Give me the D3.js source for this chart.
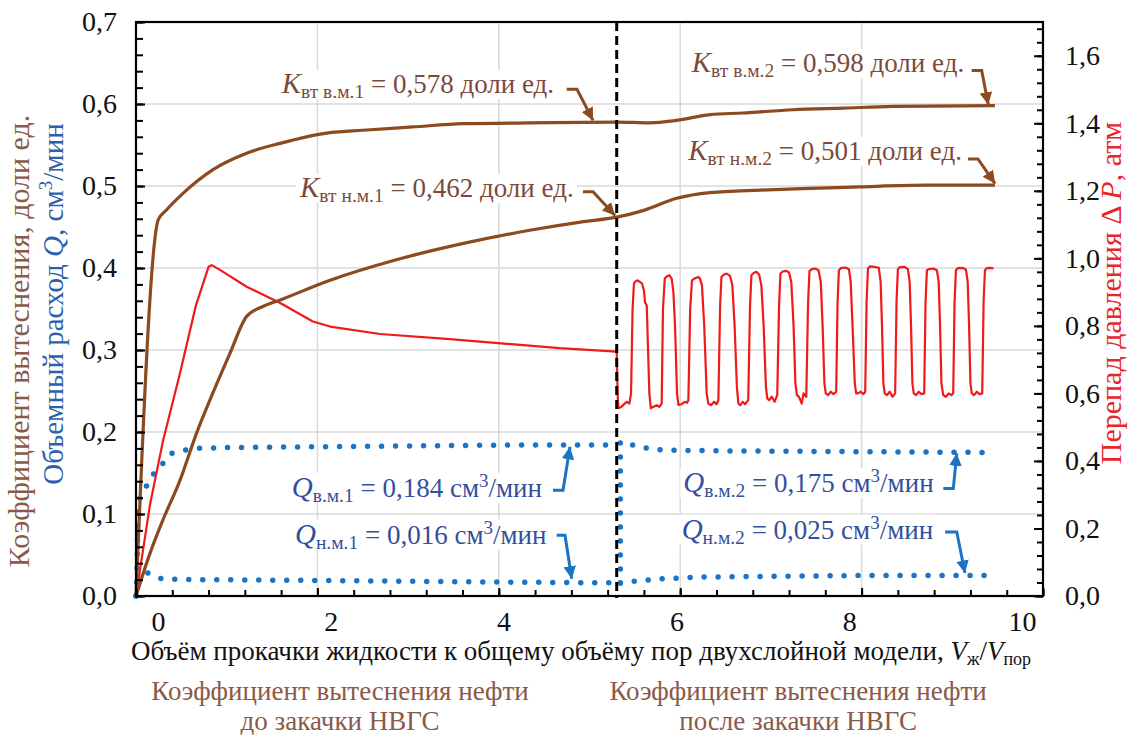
<!DOCTYPE html>
<html><head><meta charset="utf-8">
<script src="https://cdn.jsdelivr.net/npm/d3@7/dist/d3.min.js"></script>
<style>body{margin:0;background:#fff}svg{display:block}</style>
</head><body><svg id="c" width="1137" height="735"></svg>
<script>
// ---------- data ----------
const xTickValues=[0,2,4,6,8,10];
const yLeftTickValues=[0,0.1,0.2,0.3,0.4,0.5,0.6,0.7];
const yRightTickValues=[0,0.2,0.4,0.6,0.8,1.0,1.2,1.4,1.6];
const injectionX=5.30;
const kHigh=[[0,0],[0.246,0.459],[0.338,0.471],[0.518,0.491],[0.849,0.520],[1.22,0.540],[1.59,0.552],[2.14,0.565],[2.50,0.568],[3.05,0.572],[3.61,0.576],[4.34,0.577],[5.30,0.578],[5.67,0.577],[5.96,0.580],[6.33,0.587],[6.69,0.589],[7.24,0.593],[7.80,0.595],[8.35,0.597],[9.47,0.598]];
const kLow=[[0,0],[0.154,0.052],[0.298,0.093],[0.485,0.141],[0.669,0.199],[0.849,0.248],[1.036,0.296],[1.22,0.341],[1.40,0.353],[1.59,0.361],[2.14,0.385],[2.87,0.410],[3.61,0.430],[4.34,0.446],[4.90,0.456],[5.30,0.462],[5.59,0.470],[5.96,0.485],[6.33,0.492],[6.88,0.495],[7.43,0.497],[7.98,0.499],[8.72,0.501],[9.47,0.501]];
const dP=[[0,0],[0.154,0.27],[0.298,0.46],[0.485,0.66],[0.66,0.86],[0.80,0.975],[0.835,0.980],[0.926,0.966],[1.22,0.916],[1.59,0.868],[1.95,0.813],[2.14,0.798],[2.69,0.776],[3.46,0.761],[4.67,0.734],[5.30,0.724],
[5.31,0.60],[5.318,0.556],[5.35,0.56],[5.373,0.566],[5.41,0.575],[5.44,0.57],[5.458,0.60],
[5.475,0.85],[5.49,0.925],[5.502,0.931],[5.53,0.935],[5.557,0.93],[5.58,0.925],[5.60,0.905],[5.612,0.87],[5.631,0.86],[5.66,0.60],[5.676,0.556],
[5.70,0.56],[5.74,0.565],[5.77,0.56],[5.796,0.57],
[5.81,0.85],[5.83,0.94],[5.851,0.946],[5.88,0.95],[5.906,0.94],[5.925,0.90],[5.943,0.80],[5.965,0.60],[5.98,0.566],
[6.016,0.568],[6.05,0.575],[6.075,0.572],[6.09,0.58],
[6.11,0.85],[6.13,0.935],[6.163,0.941],[6.20,0.945],[6.218,0.94],[6.24,0.92],[6.265,0.80],[6.292,0.60],[6.31,0.57],
[6.34,0.565],[6.373,0.575],[6.40,0.568],[6.421,0.58],
[6.44,0.86],[6.455,0.945],[6.476,0.951],[6.51,0.955],[6.55,0.948],[6.575,0.92],[6.60,0.80],[6.625,0.62],[6.641,0.57],
[6.66,0.565],[6.69,0.575],[6.715,0.568],[6.75,0.58],
[6.77,0.86],[6.785,0.95],[6.807,0.956],[6.84,0.96],[6.87,0.952],[6.895,0.92],[6.92,0.80],[6.945,0.62],[6.96,0.585],
[6.98,0.58],[7.01,0.59],[7.04,0.575],[7.07,0.595],
[7.09,0.86],[7.105,0.955],[7.13,0.961],[7.17,0.963],[7.20,0.958],[7.225,0.93],[7.25,0.80],[7.27,0.63],[7.287,0.595],
[7.31,0.59],[7.34,0.57],[7.36,0.60],[7.39,0.59],
[7.41,0.87],[7.425,0.962],[7.45,0.968],[7.49,0.97],[7.525,0.965],[7.55,0.93],[7.57,0.80],[7.59,0.63],[7.605,0.60],
[7.63,0.595],[7.66,0.605],[7.69,0.598],[7.72,0.605],
[7.735,0.87],[7.75,0.965],[7.77,0.971],[7.82,0.973],[7.86,0.968],[7.88,0.93],[7.90,0.80],[7.925,0.63],[7.94,0.60],
[7.96,0.60],[7.99,0.605],[8.02,0.598],[8.04,0.605],
[8.055,0.87],[8.07,0.97],[8.09,0.976],[8.14,0.975],[8.19,0.972],[8.21,0.93],[8.225,0.80],[8.24,0.63],[8.255,0.60],
[8.28,0.595],[8.31,0.605],[8.34,0.59],[8.37,0.60],
[8.385,0.87],[8.40,0.968],[8.42,0.974],[8.47,0.975],[8.51,0.968],[8.53,0.93],[8.545,0.80],[8.56,0.63],[8.575,0.60],
[8.60,0.595],[8.63,0.605],[8.66,0.598],[8.69,0.60],
[8.705,0.87],[8.72,0.965],[8.74,0.968],[8.79,0.97],[8.83,0.965],[8.85,0.93],[8.865,0.80],[8.88,0.63],[8.90,0.595],
[8.93,0.59],[8.96,0.60],[8.99,0.595],[9.01,0.60],
[9.025,0.87],[9.04,0.965],[9.06,0.971],[9.11,0.972],[9.15,0.967],[9.17,0.93],[9.185,0.80],[9.20,0.63],[9.215,0.60],
[9.24,0.595],[9.27,0.605],[9.30,0.598],[9.33,0.60],
[9.345,0.87],[9.36,0.965],[9.38,0.971],[9.42,0.972],[9.455,0.97]];
const qHigh1=[[0,0],[0.008,0.02],[0.015,0.056],[0.02,0.105],[0.045,0.121],[0.12,0.135],[0.21,0.152],[0.30,0.162],[0.39,0.174],[0.54,0.178],[0.68,0.180],[1.0,0.181],[2.0,0.182],[3.0,0.183],[4.0,0.184],[5.25,0.184]];
const qLow1=[[0,0],[0.005,0.015],[0.13,0.028],[0.28,0.021],[0.6,0.020],[2,0.019],[4,0.017],[5.25,0.016]];
const qHigh2=[[5.34,0.016],[5.34,0.188],[5.40,0.188],[5.52,0.182],[5.8,0.178],[6.5,0.177],[8,0.176],[9.45,0.175]];
const qLow2=[[5.34,0.016],[5.5,0.018],[5.8,0.021],[6.2,0.023],[7,0.024],[8,0.025],[9.45,0.025]];
const kNotes=[
 {sub:"вт в.м.1",txt:" = 0,578 доли ед.",at:[1.606,0.613],arrow:[[4.749,0.618],[4.862,0.618],[5.039,0.580]]},
 {sub:"вт н.м.1",txt:" = 0,462 доли ед.",at:[1.808,0.487],arrow:[[4.928,0.493],[5.039,0.493],[5.281,0.464]]},
 {sub:"вт в.м.2",txt:" = 0,598 доли ед.",at:[6.127,0.639],arrow:[[9.214,0.641],[9.324,0.641],[9.397,0.599]]},
 {sub:"вт н.м.2",txt:" = 0,501 доли ед.",at:[6.089,0.532],arrow:[[9.173,0.533],[9.283,0.533],[9.471,0.503]]}
];
const qNotes=[
 {sub:"в.м.1",txt:" = 0,184 см",at:[1.717,0.121],arrow:[[4.598,0.129],[4.708,0.129],[4.785,0.182]]},
 {sub:"н.м.1",txt:" = 0,016 см",at:[1.753,0.064],arrow:[[4.638,0.074],[4.730,0.074],[4.804,0.021]]},
 {sub:"в.м.2",txt:" = 0,175 см",at:[6.034,0.127],arrow:[[8.901,0.131],[9.011,0.131],[9.049,0.174]]},
 {sub:"н.м.2",txt:" = 0,025 см",at:[6.016,0.070],arrow:[[8.920,0.078],[9.049,0.078],[9.140,0.028]]}
];
const xTitle="Объём прокачки жидкости к общему объёму пор двухслойной модели, ";
const bottomNotes=[["Коэффициент вытеснения нефти","до закачки НВГС",2.25],["Коэффициент вытеснения нефти","после закачки НВГС",7.3]];

// ---------- drawing ----------
const FONT="'Liberation Serif', serif";
const C={brown:"#8b4a1f",brownText:"#7c4a3a",blue:"#1a73c4",blueText:"#344f9c",red:"#f01a1a",grid:"#d9d9d9"};
const L=136,R=1043,T=22,B=596;
const x=d3.scaleLinear([0,10],[L,R]);
const xLab=d3.scaleLinear([0,10],[158,1022]);
const yL=d3.scaleLinear([0,0.7],[B,T]);
const yR=d3.scaleLinear([0,1.7],[B,T]);
const svg=d3.select("#c").style("font-family",FONT);
const defs=svg.append("defs");
[["ab",C.brown],["aq",C.blue]].forEach(([id,col])=>{
 defs.append("marker").attr("id",id).attr("viewBox","0 0 10 10").attr("refX",10).attr("refY",5)
  .attr("markerWidth",4.2).attr("markerHeight",4.2).attr("orient","auto").attr("markerUnits","strokeWidth")
  .append("path").attr("d","M0,0L10,5L0,10z").attr("fill",col);
});
const g=svg.append("g");
g.selectAll(".gh").data(yLeftTickValues.filter(v=>v>0&&v<0.7)).join("line")
 .attr("x1",L).attr("x2",R).attr("y1",d=>yL(d)).attr("y2",d=>yL(d)).attr("stroke",C.grid).attr("stroke-width",1.5);
g.selectAll(".gv").data(xTickValues.filter(v=>v>0&&v<10)).join("line")
 .attr("y1",T).attr("y2",B).attr("x1",d=>x(d)).attr("x2",d=>x(d)).attr("stroke",C.grid).attr("stroke-width",1.5);

const line=(ys)=>d3.line().x(d=>x(d[0])).y(d=>ys(d[1]));
[qHigh1,qLow1,qHigh2,qLow2].forEach(s=>{
 svg.append("path").attr("d",line(yL)(s)).attr("fill","none").attr("stroke",C.blue)
  .attr("stroke-width",5.5).attr("stroke-linecap","round").attr("stroke-dasharray","0 14");
});
svg.append("path").attr("d",line(yR)(dP)).attr("fill","none").attr("stroke",C.red).attr("stroke-width",2.2).attr("stroke-linejoin","round");
[kHigh,kLow].forEach(s=>svg.append("path").attr("d",line(yL).curve(d3.curveMonotoneX)(s)).attr("fill","none").attr("stroke",C.brown).attr("stroke-width",3.2));
svg.append("line").attr("x1",x(injectionX)).attr("x2",x(injectionX)).attr("y1",T).attr("y2",B+2)
 .attr("stroke","#000").attr("stroke-width",3).attr("stroke-dasharray","9 5");

svg.append("rect").attr("x",L).attr("y",T).attr("width",R-L).attr("height",B-T).attr("fill","none").attr("stroke","#000").attr("stroke-width",2.2);
const fmt=d=>d3.format(".1f")(d).replace(".",",");
const styleTxt=a=>a.selectAll("text").attr("font-size",28).attr("fill","#111");
svg.append("g").attr("transform",`translate(${L},0)`).call(d3.axisRight(yL).tickValues(d3.range(0,0.7001,0.02)).tickSize(7).tickFormat(""))
 .call(a=>{a.select(".domain").remove();a.selectAll("line").attr("stroke-width",2);});
svg.append("g").attr("transform",`translate(${L},0)`).call(d3.axisLeft(yL).tickValues(yLeftTickValues).tickSize(-9).tickPadding(19).tickFormat(fmt))
 .call(a=>{a.select(".domain").remove();a.selectAll("line").attr("stroke-width",2);styleTxt(a);});
svg.append("g").attr("transform",`translate(${R},0)`).call(d3.axisLeft(yR).tickValues(d3.range(0,1.7001,0.04)).tickSize(6).tickFormat(""))
 .call(a=>{a.select(".domain").remove();a.selectAll("line").attr("stroke-width",2);});
svg.append("g").attr("transform",`translate(${R},0)`).call(d3.axisRight(yR).tickValues(yRightTickValues).tickSize(-9).tickPadding(22).tickFormat(fmt))
 .call(a=>{a.select(".domain").remove();a.selectAll("line").attr("stroke-width",2);styleTxt(a);});
svg.append("g").attr("transform",`translate(0,${B})`).call(d3.axisTop(x).tickValues(d3.range(0,10.001,0.4)).tickSize(6).tickFormat(""))
 .call(a=>{a.select(".domain").remove();a.selectAll("line").attr("stroke-width",2);});
svg.append("g").attr("transform",`translate(0,${B})`).call(d3.axisTop(x).tickValues(xTickValues).tickSize(8).tickFormat(""))
 .call(a=>{a.select(".domain").remove();a.selectAll("line").attr("stroke-width",2);});
svg.append("g").attr("transform",`translate(0,${B})`).call(d3.axisBottom(xLab).tickValues(xTickValues).tickSize(0).tickPadding(15).tickFormat(d=>d))
 .call(a=>{a.select(".domain").remove();styleTxt(a);});

function note(n,col,isK){
 const t=svg.append("text").attr("x",x(n.at[0])).attr("y",yL(n.at[1])).attr("fill",col).attr("font-size",27);
 t.append("tspan").attr("font-style","italic").attr("font-size",29).text(isK?"K":"Q");
 t.append("tspan").attr("font-size",19.5).attr("dy",5).text(n.sub);
 t.append("tspan").attr("dy",-5).text(n.txt);
 if(!isK){t.append("tspan").attr("font-size",19).attr("dy",-10).text("3");t.append("tspan").attr("dy",10).text("/мин");}
 t.selectAll("*").style("font-family",FONT);t.style("font-family",FONT);
 const bb=t.node().getBBox();
 svg.insert("rect",()=>t.node()).attr("x",bb.x-3).attr("y",bb.y+3).attr("width",bb.width+6).attr("height",bb.height-6).attr("fill","#fff");
 svg.append("path").attr("d",d3.line().x(d=>x(d[0])).y(d=>yL(d[1]))(n.arrow)).attr("fill","none").attr("stroke",isK?C.brown:C.blue)
  .attr("stroke-width",3).attr("marker-end",`url(#${isK?"ab":"aq"})`);
}
kNotes.forEach(n=>note(n,C.brownText,true));
qNotes.forEach(n=>note(n,C.blueText,false));

svg.append("text").attr("transform","translate(29,341) rotate(-90)").attr("text-anchor","middle").attr("font-size",30).attr("fill","#8a5a48").text("Коэффициент вытеснения, доли ед.");
const bt=svg.append("text").attr("transform","translate(63,304) rotate(-90)").attr("text-anchor","middle").attr("font-size",29).attr("fill","#2d5fae");
bt.append("tspan").text("Объемный расход ");bt.append("tspan").attr("font-style","italic").text("Q");bt.append("tspan").text(", см");
bt.append("tspan").attr("font-size",19).attr("dy",-11).text("3");bt.append("tspan").attr("dy",11).text("/мин");
const rt=svg.append("text").attr("transform","translate(1121,293) rotate(-90)").attr("text-anchor","middle").attr("font-size",30).attr("fill","#e8262a");
rt.append("tspan").text("Перепад давления Δ ");rt.append("tspan").attr("font-style","italic").text("P");rt.append("tspan").text(", атм");
const xt=svg.append("text").attr("x",581).attr("y",660).attr("text-anchor","middle").attr("font-size",27).attr("fill","#111");
xt.append("tspan").text(xTitle);xt.append("tspan").attr("font-style","italic").text("V");xt.append("tspan").attr("font-size",18).attr("dy",5).text("ж");
xt.append("tspan").attr("dy",-5).text("/");xt.append("tspan").attr("font-style","italic").text("V");xt.append("tspan").attr("font-size",18).attr("dy",5).text("пор");
bottomNotes.forEach(b=>{
 const t=svg.append("text").attr("x",x(b[2])).attr("y",700).attr("text-anchor","middle").attr("font-size",27).attr("fill","#8a5a48");
 t.append("tspan").attr("x",x(b[2])).text(b[0]);t.append("tspan").attr("x",x(b[2])).attr("dy",30).text(b[1]);
});
svg.selectAll("text, tspan").style("font-family",FONT);
</script></body></html>
